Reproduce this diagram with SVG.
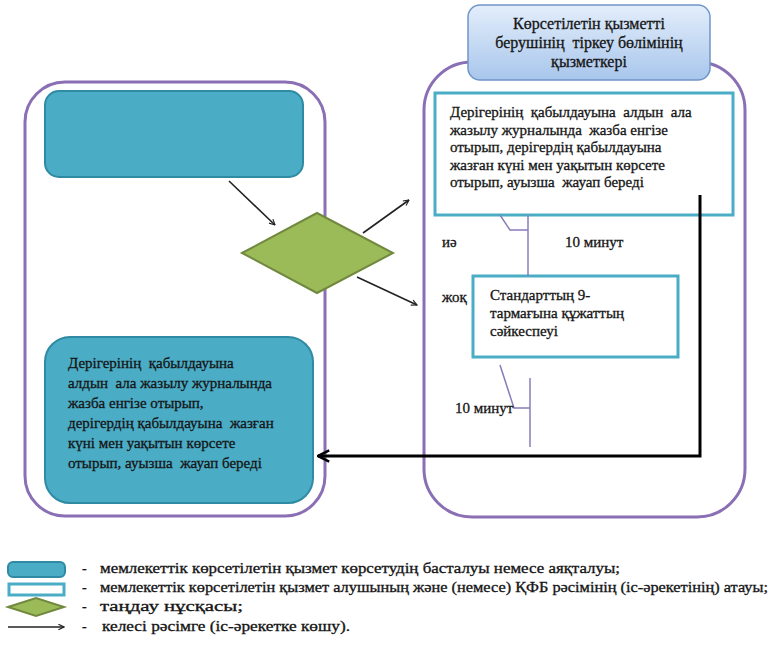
<svg xmlns="http://www.w3.org/2000/svg" width="774" height="645" viewBox="0 0 774 645">
  <style>
    .lane { fill: none; stroke: #8a6fb5; stroke-width: 3; }
    .term { fill: #4bacc6; stroke: #2f8aa3; stroke-width: 2; }
    .proc { fill: #ffffff; stroke: #4bacc6; stroke-width: 3; }
    .dec { fill: #9bbb59; stroke: #71893f; stroke-width: 2; }
    .flow { fill: none; stroke: #222222; stroke-width: 1.6; }
    .thick { fill: none; stroke: #000000; stroke-width: 3; }
    .tick { fill: none; stroke: #8a7cb8; stroke-width: 1.5; }
    text { font-family: "Liberation Serif", "Times New Roman", serif; font-size: 15px; fill: #151515; stroke: #151515; stroke-width: 0.3; }
    .hdr { font-size: 16px; }
    .lg { font-size: 14px; }
  </style>
  <defs>
    <linearGradient id="hdrGrad" x1="0" y1="0" x2="0" y2="1">
      <stop offset="0" stop-color="#e3eefb"/>
      <stop offset="1" stop-color="#a8c6ec"/>
    </linearGradient>
    <marker id="openArrow" viewBox="0 0 10 10" refX="9" refY="5" markerWidth="7" markerHeight="7" orient="auto" markerUnits="userSpaceOnUse">
      <path d="M1,1 L9,5 L1,9" fill="none" stroke="#222222" stroke-width="1.6"/>
    </marker>
    <marker id="openArrowBig" viewBox="0 0 10 10" refX="9" refY="5" markerWidth="14" markerHeight="14" orient="auto" markerUnits="userSpaceOnUse">
      <path d="M1,1 L9,5 L1,9" fill="none" stroke="#000000" stroke-width="1.8"/>
    </marker>
  </defs>

  <!-- swimlanes -->
  <g id="lane-left">
    <rect class="lane" x="25" y="82" width="300" height="434" rx="40" ry="40"/>
  </g>
  <g id="lane-right">
    <rect class="lane" x="424" y="62" width="321" height="455" rx="48" ry="48"/>
  </g>

  <!-- lane header -->
  <g id="header">
    <rect x="468" y="5" width="242" height="75" rx="12" ry="12" fill="url(#hdrGrad)" stroke="#7095c8" stroke-width="1.5"/>
    <text class="hdr" x="589" y="29" text-anchor="middle">Көрсетілетін қызметті</text>
    <text class="hdr" x="589" y="48" text-anchor="middle" xml:space="preserve">берушінің  тіркеу бөлімінің</text>
    <text class="hdr" x="589" y="67" text-anchor="middle">қызметкері</text>
  </g>

  <!-- start terminal -->
  <g id="start">
    <rect class="term" x="45" y="91" width="258" height="86" rx="14" ry="14"/>
  </g>

  <!-- decision -->
  <g id="decision">
    <polygon class="dec" points="242,253 317,213 393,253 317,293"/>
  </g>

  <!-- registration step -->
  <g id="register">
    <rect class="proc" x="435" y="93" width="298" height="122"/>
    <text x="450" y="117" xml:space="preserve">Дерігерінің  қабылдауына  алдын  ала</text>
    <text x="450" y="135" xml:space="preserve">жазылу журналында  жазба енгізе</text>
    <text x="450" y="152">отырып, дерігердің қабылдауына</text>
    <text x="450" y="170">жазған күні мен уақытын көрсете</text>
    <text x="450" y="187" xml:space="preserve">отырып, ауызша  жауап береді</text>
  </g>

  <!-- refusal step -->
  <g id="refusal">
    <rect class="proc" x="473" y="276" width="205" height="81"/>
    <text x="490" y="300">Стандарттың 9-</text>
    <text x="490" y="318">тармағына құжаттың</text>
    <text x="490" y="336">сәйкеспеуі</text>
  </g>

  <!-- end terminal -->
  <g id="end">
    <rect class="term" x="45" y="337" width="268" height="166" rx="25" ry="25"/>
    <text x="68" y="368" xml:space="preserve">Дерігерінің  қабылдауына</text>
    <text x="68" y="388" xml:space="preserve">алдын  ала жазылу журналында</text>
    <text x="68" y="408">жазба енгізе отырып,</text>
    <text x="68" y="428" xml:space="preserve">дерігердің қабылдауына  жазған</text>
    <text x="68" y="448">күні мен уақытын көрсете</text>
    <text x="68" y="468" xml:space="preserve">отырып, ауызша  жауап береді</text>
  </g>

  <!-- connectors -->
  <g id="connectors">
    <line class="flow" x1="229" y1="181" x2="275" y2="225" marker-end="url(#openArrow)"/>
    <line class="flow" x1="363" y1="233" x2="409" y2="200" marker-end="url(#openArrow)"/>
    <line class="flow" x1="357" y1="277" x2="417" y2="305" marker-end="url(#openArrow)"/>
    <polyline class="thick" points="700,195 700,456 318,456" marker-end="url(#openArrowBig)"/>
    <!-- duration brackets -->
    <polyline class="tick" points="500,215 510,230 528,230"/>
    <line class="tick" x1="528" y1="215" x2="528" y2="276"/>
    <polyline class="tick" points="500,365 514,408 530,408"/>
    <line class="tick" x1="530" y1="378" x2="530" y2="447"/>
    <text x="442" y="247">иә</text>
    <text x="565" y="247">10 минут</text>
    <text x="442" y="302">жоқ</text>
    <text x="455" y="413">10 минут</text>
  </g>

  <!-- legend -->
  <g id="legend">
    <rect class="term" x="8" y="562" width="57" height="15" rx="5" ry="5"/>
    <rect class="proc" x="9" y="584" width="55" height="11" stroke-width="2.5"/>
    <polygon class="dec" points="8,607 36,598 64,607 36,616"/>
    <line class="flow" x1="8" y1="627" x2="64" y2="627" stroke="#000" marker-end="url(#openArrow)"/>
    <text class="lg" x="82" y="573">-</text>
    <text class="lg" x="100" y="573" textLength="520" lengthAdjust="spacingAndGlyphs">мемлекеттік көрсетілетін қызмет көрсетудің басталуы немесе аяқталуы;</text>
    <text class="lg" x="82" y="592">-</text>
    <text class="lg" x="100" y="592" textLength="668" lengthAdjust="spacingAndGlyphs">мемлекеттік көрсетілетін қызмет алушының және (немесе) ҚФБ рәсімінің (іс-әрекетінің) атауы;</text>
    <text class="lg" x="82" y="611">-</text>
    <text class="lg" x="100" y="611" textLength="143" lengthAdjust="spacingAndGlyphs">таңдау нұсқасы;</text>
    <text class="lg" x="82" y="631">-</text>
    <text class="lg" x="102" y="631" textLength="248" lengthAdjust="spacingAndGlyphs">келесі рәсімге (іс-әрекетке көшу).</text>
  </g>
</svg>
